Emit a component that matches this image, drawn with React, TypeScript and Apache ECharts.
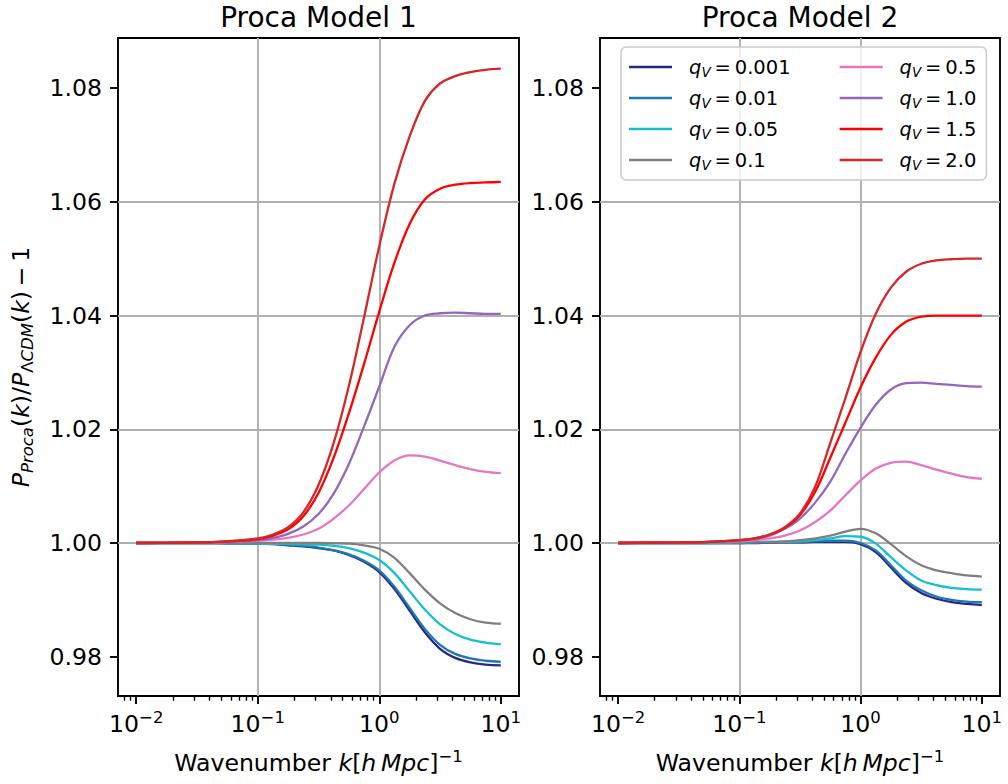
import React, { useEffect, useRef } from 'react';
import * as echarts from 'echarts';

// wavenumber sample points k [h/Mpc]
const kValues = [0.01, 0.03162, 0.05623, 0.1, 0.1334, 0.1778, 0.2371, 0.3162, 0.4217, 0.5623, 0.7499, 1.0, 1.3335, 1.7783, 2.3714, 3.1623, 4.217, 5.6234, 7.4989, 10.0];

const qLabels = ['0.001', '0.01', '0.05', '0.1', '0.5', '1.0', '1.5', '2.0'];
const qColors = ['#262b7f', '#1f77b4', '#17becf', '#7f7f7f', '#e377c2', '#9467bd', '#ff0000', '#d62728'];

// Proca Model 1
const m1_q0001 = [1.0, 1.0, 0.99995, 0.9999, 0.9998, 0.9996, 0.9994, 0.9991, 0.9987, 0.9979, 0.9967, 0.9949, 0.9919, 0.9881, 0.9843, 0.9814, 0.9798, 0.979, 0.9786, 0.9785];
const m1_q001 = [1.0, 1.0, 0.99995, 0.9999, 0.99985, 0.9997, 0.9995, 0.9992, 0.9987, 0.998, 0.9969, 0.9952, 0.9923, 0.9886, 0.9849, 0.9821, 0.9805, 0.9797, 0.9793, 0.9791];
const m1_q005 = [1.0, 1.0, 1.0, 0.9999, 0.99985, 0.9998, 0.99975, 0.9997, 0.9995, 0.9991, 0.9983, 0.997, 0.9947, 0.9915, 0.9883, 0.9857, 0.984, 0.983, 0.9825, 0.9822];
const m1_q01 = [1.0, 1.0, 1.0, 1.0, 1.0, 1.0, 1.0, 1.0, 0.99995, 0.9999, 0.9996, 0.999, 0.9974, 0.9947, 0.9918, 0.9894, 0.9877, 0.9866, 0.986, 0.9858];
const m1_q05 = [1.0, 1.0001, 1.0002, 1.0004, 1.0006, 1.0009, 1.0015, 1.0025, 1.0043, 1.0066, 1.0095, 1.0124, 1.0145, 1.0154, 1.0152, 1.0145, 1.0137, 1.013, 1.0125, 1.0123];
const m1_q10 = [1.0, 1.0001, 1.0002, 1.0005, 1.0009, 1.0016, 1.0029, 1.0051, 1.0087, 1.0139, 1.0205, 1.0275, 1.0345, 1.0383, 1.04, 1.0404, 1.0405, 1.0404, 1.0403, 1.0403];
const m1_q15 = [1.0, 1.0001, 1.0003, 1.0007, 1.0013, 1.0024, 1.0047, 1.0088, 1.015, 1.0228, 1.0315, 1.0407, 1.0493, 1.0561, 1.0604, 1.0623, 1.063, 1.0633, 1.0634, 1.0635];
const m1_q20 = [1.0, 1.0001, 1.0003, 1.0008, 1.0015, 1.0028, 1.0054, 1.0102, 1.0176, 1.0276, 1.0397, 1.0522, 1.0632, 1.0715, 1.0777, 1.0808, 1.0821, 1.0828, 1.0832, 1.0834];

// Proca Model 2
const m2_q0001 = [1.0, 1.0, 1.0, 1.0, 1.0, 1.0001, 1.0001, 1.0001, 1.0002, 1.0002, 1.0002, 0.9998, 0.9984, 0.9957, 0.993, 0.9912, 0.9902, 0.9896, 0.9893, 0.9891];
const m2_q001 = [1.0, 1.0, 1.0, 1.0, 1.0001, 1.0001, 1.0002, 1.0002, 1.0003, 1.0004, 1.0004, 1.0, 0.9987, 0.9961, 0.9934, 0.9917, 0.9906, 0.99, 0.9897, 0.9896];
const m2_q005 = [1.0, 1.0, 1.0, 1.0001, 1.0001, 1.0002, 1.0002, 1.0003, 1.0005, 1.0008, 1.0012, 1.0011, 0.9999, 0.9975, 0.9952, 0.9934, 0.9926, 0.9921, 0.9919, 0.9918];
const m2_q01 = [1.0, 1.0, 1.0001, 1.0001, 1.0002, 1.0002, 1.0003, 1.0005, 1.0008, 1.0013, 1.002, 1.0025, 1.0017, 0.9998, 0.9977, 0.9961, 0.9952, 0.9947, 0.9943, 0.9941];
const m2_q05 = [1.0, 1.0001, 1.0002, 1.0003, 1.0005, 1.0008, 1.0013, 1.0022, 1.0037, 1.0057, 1.0084, 1.011, 1.0131, 1.0141, 1.0143, 1.0137, 1.0129, 1.0122, 1.0116, 1.0113];
const m2_q10 = [1.0, 1.0001, 1.0002, 1.0004, 1.0007, 1.0013, 1.0025, 1.0043, 1.0071, 1.0108, 1.0157, 1.0203, 1.0243, 1.027, 1.0281, 1.0282, 1.028, 1.0278, 1.0276, 1.0275];
const m2_q15 = [1.0, 1.0001, 1.0002, 1.0005, 1.0008, 1.0015, 1.0027, 1.0049, 1.009, 1.015, 1.0212, 1.0274, 1.0326, 1.0366, 1.0389, 1.0398, 1.04, 1.04, 1.04, 1.04];
const m2_q20 = [1.0, 1.0001, 1.0002, 1.0005, 1.0008, 1.0015, 1.0028, 1.0052, 1.0099, 1.0176, 1.0255, 1.0336, 1.0403, 1.0449, 1.0477, 1.0491, 1.0497, 1.0499, 1.05, 1.05];

const model1Series = [m1_q0001, m1_q001, m1_q005, m1_q01, m1_q05, m1_q10, m1_q15, m1_q20];
const model2Series = [m2_q0001, m2_q001, m2_q005, m2_q01, m2_q05, m2_q10, m2_q15, m2_q20];

const panelTitles = ['Proca Model 1', 'Proca Model 2'];
const xTickValues = [0.01, 0.1, 1, 10];
const xMinorTickValues = [0.008, 0.009, 0.02, 0.03, 0.04, 0.05, 0.06, 0.07, 0.08, 0.09, 0.2, 0.3, 0.4, 0.5, 0.6, 0.7, 0.8, 0.9, 2, 3, 4, 5, 6, 7, 8, 9];
const yTickValues = [0.98, 1.0, 1.02, 1.04, 1.06, 1.08];

const FONT = 'DejaVu Sans';
const X_MIN = Math.pow(10, -2.15);
const X_MAX = Math.pow(10, 1.15);
const Y_MIN = 0.9731;
const Y_MAX = 1.0888;

const grids = [
  { left: 118, top: 38, width: 401, height: 658 },
  { left: 600, top: 38, width: 400, height: 658 },
];

function powLabel(v: number) {
  const e = Math.round(Math.log10(v));
  return `{b|10}{sup|${e < 0 ? '\u2212' : ''}${Math.abs(e)}}`;
}

function buildOption() {
  const gridOpts = grids.map((g) => ({
    ...g,
    show: true,
    borderColor: '#000',
    borderWidth: 1.9,
    backgroundColor: 'transparent',
    containLabel: false,
  }));

  const xAxes: any[] = [];
  const yAxes: any[] = [];
  grids.forEach((_, gi) => {
    xAxes.push({
      type: 'log',
      logBase: 10,
      gridIndex: gi,
      min: X_MIN,
      max: X_MAX,
      position: 'bottom',
      axisLine: { show: false },
      axisTick: {
        show: true,
        inside: false,
        length: 8,
        lineStyle: { color: '#000', width: 1.9 },
        customValues: xTickValues,
      },
      axisLabel: {
        show: true,
        customValues: xTickValues,
        margin: 13,
        formatter: (v: number) => powLabel(v),
        rich: {
          b: { fontSize: 23.6, fontFamily: FONT, color: '#000', lineHeight: 30 },
          sup: { fontSize: 16.5, fontFamily: FONT, color: '#000', verticalAlign: 'top', lineHeight: 18 },
        },
      },
      splitLine: {
        show: true,
        showMinLine: false,
        showMaxLine: false,
        lineStyle: { color: '#b0b0b0', width: 1.9 },
      },
      minorTick: { show: false },
    });
    xAxes.push({
      type: 'log',
      logBase: 10,
      gridIndex: gi,
      min: X_MIN,
      max: X_MAX,
      position: 'bottom',
      axisLine: { show: false },
      axisTick: {
        show: true,
        inside: false,
        length: 4.7,
        lineStyle: { color: '#000', width: 1.4 },
        customValues: xMinorTickValues,
      },
      axisLabel: { show: false },
      splitLine: { show: false },
    });
    yAxes.push({
      type: 'value',
      gridIndex: gi,
      min: Y_MIN,
      max: Y_MAX,
      position: 'left',
      axisLine: { show: false },
      axisTick: {
        show: true,
        inside: false,
        length: 8,
        lineStyle: { color: '#000', width: 1.9 },
        customValues: yTickValues,
      },
      axisLabel: {
        show: true,
        customValues: yTickValues,
        margin: 16,
        formatter: (v: number) => v.toFixed(2),
        fontSize: 23.6,
        fontFamily: FONT,
        color: '#000',
      },
      splitLine: {
        show: true,
        showMinLine: false,
        showMaxLine: false,
        lineStyle: { color: '#b0b0b0', width: 1.9 },
      },
    });
  });

  const series: any[] = [];
  [model1Series, model2Series].forEach((set, pi) => {
    set.forEach((vals, si) => {
      series.push({
        type: 'line',
        name: qLabels[si],
        xAxisIndex: pi * 2,
        yAxisIndex: pi,
        data: kValues.map((k, j) => [k, vals[j]]),
        symbol: 'none',
        showSymbol: false,
        smooth: 0.35,
        clip: true,
        lineStyle: { width: 2.3, color: qColors[si] },
        itemStyle: { color: qColors[si] },
        emphasis: { disabled: true },
        z: 3 + si,
      });
    });
  });

  const textRich = {
    n: { fontSize: 23.6, fontFamily: FONT, fill: '#000', lineHeight: 30 },
    i: { fontSize: 23.6, fontFamily: FONT, fontStyle: 'italic', fill: '#000', lineHeight: 30 },
    sub: { fontSize: 16.5, fontFamily: FONT, fontStyle: 'italic', fill: '#000', verticalAlign: 'bottom', lineHeight: 20 },
    subn: { fontSize: 16.5, fontFamily: FONT, fill: '#000', verticalAlign: 'bottom', lineHeight: 20 },
    sup: { fontSize: 16.5, fontFamily: FONT, fill: '#000', verticalAlign: 'top', lineHeight: 18 },
  };

  const graphics: any[] = [];
  grids.forEach((g, gi) => {
    const cx = g.left + g.width / 2;
    graphics.push({
      type: 'text',
      x: cx,
      y: 17,
      style: {
        text: panelTitles[gi],
        fontSize: 28,
        fontFamily: FONT,
        fill: '#000',
        align: 'center',
        verticalAlign: 'middle',
      },
    });
    graphics.push({
      type: 'text',
      x: cx,
      y: 763,
      style: {
        text: '{n|Wavenumber }{i|k}{n|[}{i|h\u2009Mpc}{n|]}{sup|\u22121}',
        rich: textRich,
        align: 'center',
        verticalAlign: 'middle',
      },
    });
  });
  graphics.push({
    type: 'text',
    x: 21,
    y: 367,
    rotation: Math.PI / 2,
    style: {
      text: '{i|P}{sub|Proca}{n|(}{i|k}{n|)/}{i|P}{subn|\u039b}{sub|CDM}{n|(}{i|k}{n|)\u2009\u2212\u20091}',
      rich: textRich,
      align: 'center',
      verticalAlign: 'middle',
    },
  });

  return {
    animation: false,
    backgroundColor: '#fff',
    grid: gridOpts,
    xAxis: xAxes,
    yAxis: yAxes,
    legend: {
      show: true,
      data: qLabels,
      orient: 'vertical',
      left: 621,
      top: 47,
      height: 126,
      padding: [10, 10, 8, 8],
      icon: 'rect',
      itemWidth: 43,
      itemHeight: 2.4,
      itemGap: 9,
      selectedMode: false,
      backgroundColor: 'rgba(255,255,255,0.8)',
      borderColor: '#cccccc',
      borderWidth: 1.5,
      borderRadius: 5,
      formatter: (name: string) => {
        const idx = qLabels.indexOf(name);
        const st = idx < 4 ? 'w' : 'n';
        return `{q|q}{v|V}{${st}|\u2009=\u2009${name}}`;
      },
      textStyle: {
        fontFamily: FONT,
        fontSize: 19.5,
        color: '#000',
        rich: {
          q: { fontSize: 19.5, fontFamily: FONT, fontStyle: 'italic', color: '#000', lineHeight: 24, padding: [0, 0, 0, 12] },
          v: { fontSize: 13.5, fontFamily: FONT, fontStyle: 'italic', color: '#000', lineHeight: 17, verticalAlign: 'bottom' },
          n: { fontSize: 19.5, fontFamily: FONT, color: '#000', lineHeight: 24 },
          w: { fontSize: 19.5, fontFamily: FONT, color: '#000', lineHeight: 24, width: 120 },
        },
      },
    },
    tooltip: { show: false },
    graphic: graphics,
    series,
  };
}

export default function App() {
  const ref = useRef<HTMLDivElement>(null);
  useEffect(() => {
    if (!ref.current) return;
    const chart = echarts.init(ref.current, undefined, { renderer: 'svg' });
    chart.setOption(buildOption() as any);
    return () => {
      chart.dispose();
    };
  }, []);
  return (
    <div
      ref={ref}
      style={{ width: 1008, height: 784, position: 'absolute', left: 0, top: 0, background: '#fff' }}
    />
  );
}
